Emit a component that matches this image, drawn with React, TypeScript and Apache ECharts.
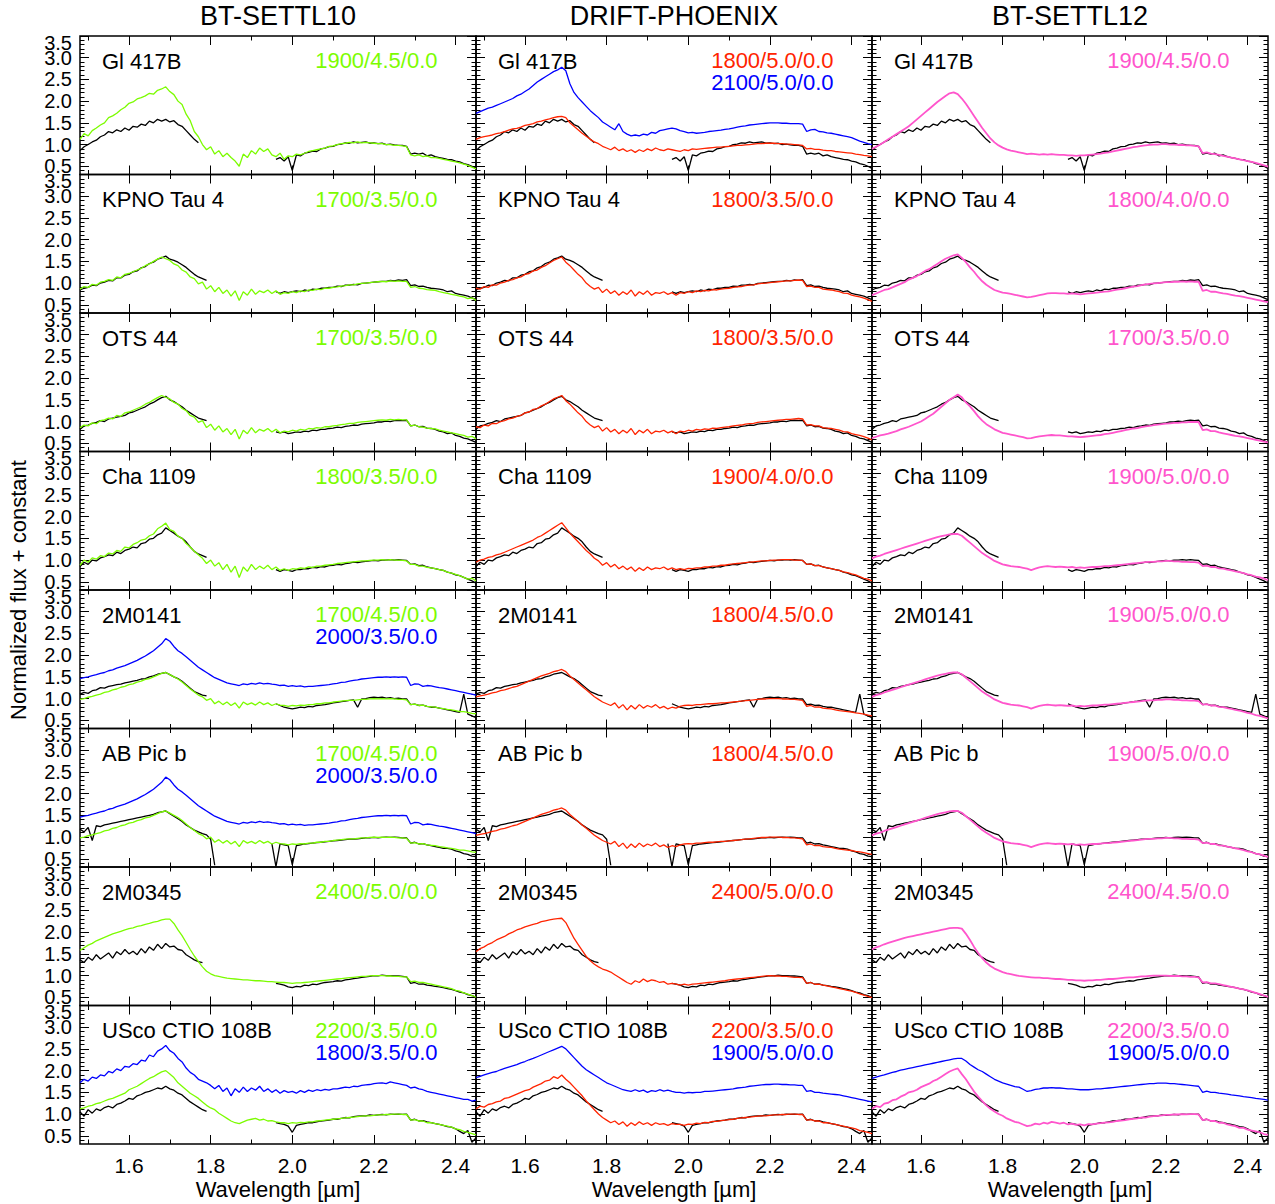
import React, { useEffect, useRef } from "react";
import * as echarts from "echarts";

const _ = null;

// wavelength grid in micron
const WAVELENGTH = [
  1.48, 1.49, 1.50, 1.51, 1.52, 1.53, 1.54, 1.55, 1.56, 1.57,
  1.58, 1.59, 1.60, 1.61, 1.62, 1.63, 1.64, 1.65, 1.66, 1.67,
  1.68, 1.69, 1.70, 1.71, 1.72, 1.73, 1.74, 1.75, 1.76, 1.77,
  1.78, 1.79, 1.80, 1.81, 1.82, 1.83, 1.84, 1.85, 1.86, 1.87,
  1.88, 1.89, 1.90, 1.91, 1.92, 1.93, 1.94, 1.95, 1.96, 1.97,
  1.98, 1.99, 2.00, 2.01, 2.02, 2.03, 2.04, 2.05, 2.06, 2.07,
  2.08, 2.09, 2.10, 2.11, 2.12, 2.13, 2.14, 2.15, 2.16, 2.17,
  2.18, 2.19, 2.20, 2.21, 2.22, 2.23, 2.24, 2.25, 2.26, 2.27,
  2.28, 2.29, 2.30, 2.31, 2.32, 2.33, 2.34, 2.35, 2.36, 2.37,
  2.38, 2.39, 2.40, 2.41, 2.42, 2.43, 2.44, 2.45,
];

// ---------- observed spectra (black) ----------
const OBS_GL417B = [
  0.86, 0.95, 1.00, 1.06, 1.10, 1.18, 1.22, 1.30, 1.27, 1.34,
  1.30, 1.38, 1.33, 1.42, 1.40, 1.47, 1.44, 1.54, 1.50, 1.58,
  1.54, 1.58, 1.52, 1.55, 1.46, 1.42, 1.32, 1.22, 1.12, 1.04,
  _, _, _, _, _, _, _, _, _, _,
  _, _, _, _, _, _, _, _, 0.66, 0.70,
  0.62, 0.72, 0.40, 0.76, 0.74, 0.80, 0.82, 0.85, 0.84, 0.90,
  0.92, 0.95, 0.96, 1.00, 1.01, 1.04, 1.03, 1.06, 1.04, 1.05,
  1.06, 1.03, 1.04, 1.02, 1.03, 1.00, 1.01, 0.99, 0.98, 0.98,
  0.96, 0.78, 0.80, 0.78, 0.80, 0.74, 0.76, 0.72, 0.70, 0.68,
  0.66, 0.65, 0.62, 0.60, 0.56, 0.54, 0.50, 0.45,
];
const OBS_KPNOTAU4 = [
  0.84, 0.88, 0.90, 0.95, 0.94, 1.00, 1.02, 1.06, 1.05, 1.12,
  1.12, 1.18, 1.20, 1.26, 1.28, 1.35, 1.38, 1.45, 1.48, 1.55,
  1.58, 1.62, 1.55, 1.52, 1.48, 1.42, 1.36, 1.28, 1.20, 1.14,
  1.10, 1.06, _, _, _, _, _, _, _, _,
  _, _, _, _, _, _, _, _, 0.80, 0.76,
  0.80, 0.78, 0.80, 0.82, 0.80, 0.84, 0.82, 0.86, 0.85, 0.88,
  0.88, 0.90, 0.90, 0.93, 0.92, 0.95, 0.95, 0.97, 0.96, 0.99,
  1.00, 1.01, 1.02, 1.03, 1.04, 1.04, 1.06, 1.05, 1.07, 1.06,
  1.08, 0.94, 0.96, 0.92, 0.93, 0.90, 0.88, 0.87, 0.86, 0.84,
  0.80, 0.82, 0.76, 0.74, 0.72, 0.70, 0.66, 0.62,
];
const OBS_OTS44 = [
  0.82, 0.90, 0.92, 0.96, 0.98, 1.02, 1.00, 1.06, 1.08, 1.10,
  1.12, 1.14, 1.20, 1.22, 1.26, 1.30, 1.34, 1.40, 1.44, 1.50,
  1.55, 1.58, 1.50, 1.46, 1.40, 1.34, 1.26, 1.20, 1.14, 1.08,
  1.05, 1.02, _, _, _, _, _, _, _, _,
  _, _, _, _, _, _, _, _, 0.76, 0.74,
  0.76, 0.72, 0.74, 0.76, 0.75, 0.78, 0.77, 0.80, 0.79, 0.82,
  0.82, 0.84, 0.85, 0.87, 0.86, 0.89, 0.90, 0.92, 0.91, 0.94,
  0.95, 0.96, 0.97, 0.99, 0.99, 1.01, 1.00, 1.02, 1.03, 1.02,
  1.03, 0.90, 0.92, 0.88, 0.89, 0.85, 0.84, 0.82, 0.78, 0.76,
  0.72, 0.74, 0.68, 0.66, 0.62, 0.60, 0.56, 0.52,
];
const OBS_CHA1109 = [
  0.85, 0.95, 0.90, 1.00, 0.98, 1.05, 1.08, 1.12, 1.10, 1.18,
  1.15, 1.22, 1.25, 1.30, 1.28, 1.38, 1.40, 1.48, 1.50, 1.58,
  1.62, 1.74, 1.68, 1.62, 1.55, 1.50, 1.42, 1.30, 1.20, 1.14,
  1.10, 1.06, _, _, _, _, _, _, _, _,
  _, _, _, _, _, _, _, _, 0.78, 0.74,
  0.78, 0.76, 0.74, 0.78, 0.78, 0.80, 0.80, 0.83, 0.82, 0.85,
  0.84, 0.87, 0.88, 0.90, 0.89, 0.92, 0.93, 0.95, 0.94, 0.96,
  0.97, 0.98, 0.99, 0.98, 1.00, 1.00, 1.01, 1.00, 1.01, 1.00,
  0.99, 0.90, 0.91, 0.87, 0.88, 0.84, 0.82, 0.80, 0.78, 0.76,
  0.72, 0.70, 0.66, 0.64, 0.60, 0.56, 0.52, 0.47,
];
const OBS_2M0141 = [
  1.10, 1.14, 1.12, 1.18, 1.20, 1.25, 1.24, 1.28, 1.30, 1.32,
  1.33, 1.36, 1.38, 1.40, 1.42, 1.45, 1.46, 1.50, 1.52, 1.56,
  1.58, 1.60, 1.55, 1.50, 1.46, 1.40, 1.32, 1.24, 1.16, 1.12,
  1.08, 1.06, _, _, _, _, _, _, _, _,
  _, _, _, _, _, _, _, _, 0.88, 0.84,
  0.80, 0.78, 0.76, 0.78, 0.80, 0.79, 0.82, 0.81, 0.84, 0.85,
  0.86, 0.88, 0.90, 0.91, 0.93, 0.94, 0.96, 0.97, 0.80, 0.99,
  1.00, 1.02, 1.03, 1.02, 1.03, 1.01, 1.02, 1.00, 1.01, 0.99,
  0.99, 0.86, 0.87, 0.84, 0.85, 0.82, 0.80, 0.80, 0.78, 0.76,
  0.74, 0.72, 0.70, 0.68, 1.10, 0.64, 0.60, 0.56,
];
const OBS_ABPICB = [
  1.18, 1.12, 1.22, 0.92, 1.26, 1.24, 1.28, 1.30, 1.32, 1.34,
  1.36, 1.38, 1.40, 1.42, 1.44, 1.46, 1.48, 1.50, 1.52, 1.56,
  1.58, 1.60, 1.54, 1.48, 1.42, 1.36, 1.28, 1.22, 1.16, 1.12,
  1.08, 1.05, 0.95, 0.35, _, _, _, _, _, _,
  _, _, _, _, _, _, _, 0.85, 0.32, 0.84,
  0.82, 0.80, 0.36, 0.80, 0.82, 0.84, 0.85, 0.86, 0.87, 0.88,
  0.89, 0.90, 0.91, 0.92, 0.93, 0.94, 0.95, 0.95, 0.96, 0.97,
  0.98, 0.98, 0.99, 0.98, 0.99, 1.00, 0.99, 1.00, 0.99, 0.98,
  0.98, 0.86, 0.88, 0.84, 0.85, 0.82, 0.80, 0.78, 0.76, 0.74,
  0.74, 0.72, 0.68, 0.66, 0.62, 0.60, 0.56, 0.55,
];
const OBS_2M0345 = [
  1.36, 1.30, 1.42, 1.35, 1.48, 1.38, 1.45, 1.52, 1.40, 1.55,
  1.48, 1.60, 1.50, 1.56, 1.48, 1.62, 1.52, 1.66, 1.58, 1.72,
  1.62, 1.74, 1.66, 1.68, 1.60, 1.58, 1.48, 1.42, 1.36, 1.32,
  1.30, _, _, _, _, _, _, _, _, _,
  _, _, _, _, _, _, _, _, 0.82, 0.80,
  0.78, 0.74, 0.72, 0.75, 0.74, 0.78, 0.77, 0.80, 0.79, 0.82,
  0.84, 0.85, 0.86, 0.88, 0.87, 0.90, 0.91, 0.93, 0.94, 0.96,
  0.97, 0.98, 1.00, 0.99, 1.01, 1.00, 1.00, 0.99, 0.99, 0.98,
  0.97, 0.82, 0.84, 0.80, 0.81, 0.78, 0.77, 0.75, 0.74, 0.72,
  0.70, 0.68, 0.65, 0.62, 0.60, 0.56, 0.54, 0.50,
];
const OBS_USCO108B = [
  1.05, 0.95, 1.10, 1.02, 1.12, 1.08, 1.15, 1.18, 1.14, 1.22,
  1.25, 1.30, 1.36, 1.34, 1.42, 1.45, 1.50, 1.52, 1.56, 1.60,
  1.58, 1.64, 1.58, 1.55, 1.48, 1.44, 1.36, 1.28, 1.22, 1.16,
  1.10, 1.06, _, _, _, _, _, _, _, _,
  _, _, _, _, _, _, _, _, 0.80, 0.78,
  0.76, 0.72, 0.58, 0.74, 0.76, 0.78, 0.80, 0.80, 0.82, 0.84,
  0.85, 0.86, 0.88, 0.88, 0.90, 0.92, 0.91, 0.94, 0.95, 0.96,
  0.96, 0.98, 0.97, 0.98, 0.99, 0.98, 1.00, 0.99, 1.00, 0.99,
  1.00, 0.86, 0.88, 0.84, 0.85, 0.82, 0.80, 0.78, 0.76, 0.74,
  0.71, 0.70, 0.66, 0.60, 0.55, 0.62, 0.35, 0.45,
];

// ---------- BT-SETTL10 models ----------
const S10_1900_45 = [
  1.12, 1.25, 1.20, 1.32, 1.38, 1.45, 1.50, 1.62, 1.66, 1.72,
  1.80, 1.86, 1.95, 1.98, 2.05, 2.08, 2.12, 2.18, 2.16, 2.25,
  2.28, 2.33, 2.22, 2.15, 2.00, 1.92, 1.70, 1.55, 1.30, 1.18,
  1.00, 0.88, 0.95, 0.78, 0.86, 0.72, 0.80, 0.70, 0.62, 0.50,
  0.78, 0.70, 0.86, 0.78, 0.92, 0.84, 0.90, 0.76, 0.72, 0.80,
  0.66, 0.74, 0.72, 0.78, 0.76, 0.80, 0.84, 0.86, 0.88, 0.90,
  0.92, 0.96, 0.97, 1.00, 1.02, 1.03, 1.05, 1.04, 1.06, 1.04,
  1.05, 1.04, 1.03, 1.02, 1.02, 1.00, 1.00, 0.98, 0.98, 0.97,
  0.95, 0.76, 0.74, 0.76, 0.72, 0.74, 0.70, 0.70, 0.68, 0.66,
  0.64, 0.62, 0.60, 0.58, 0.55, 0.52, 0.48, 0.44,
];
const S10_1700_35 = [
  0.86, 0.92, 0.90, 0.97, 0.95, 1.02, 1.04, 1.08, 1.06, 1.14,
  1.12, 1.20, 1.22, 1.26, 1.30, 1.34, 1.40, 1.44, 1.50, 1.55,
  1.60, 1.56, 1.52, 1.44, 1.40, 1.30, 1.25, 1.14, 1.10, 0.98,
  1.02, 0.86, 0.94, 0.80, 0.90, 0.76, 0.84, 0.70, 0.82, 0.60,
  0.80, 0.72, 0.86, 0.74, 0.82, 0.78, 0.84, 0.76, 0.82, 0.74,
  0.78, 0.76, 0.80, 0.78, 0.82, 0.80, 0.84, 0.83, 0.86, 0.85,
  0.88, 0.88, 0.90, 0.91, 0.93, 0.94, 0.96, 0.96, 0.98, 0.99,
  1.00, 1.01, 1.02, 1.03, 1.04, 1.03, 1.05, 1.04, 1.05, 1.04,
  1.04, 0.90, 0.92, 0.88, 0.87, 0.85, 0.84, 0.83, 0.80, 0.78,
  0.76, 0.74, 0.72, 0.70, 0.68, 0.64, 0.66, 0.60,
];
const S10_1800_35 = [
  0.88, 1.00, 0.95, 1.05, 1.02, 1.10, 1.08, 1.16, 1.14, 1.22,
  1.20, 1.30, 1.28, 1.36, 1.40, 1.46, 1.48, 1.56, 1.60, 1.72,
  1.78, 1.85, 1.70, 1.66, 1.55, 1.50, 1.38, 1.30, 1.20, 1.12,
  1.04, 0.92, 1.00, 0.86, 0.94, 0.78, 0.90, 0.72, 0.86, 0.60,
  0.84, 0.74, 0.90, 0.78, 0.86, 0.80, 0.88, 0.78, 0.84, 0.76,
  0.80, 0.76, 0.80, 0.79, 0.82, 0.81, 0.84, 0.83, 0.86, 0.86,
  0.88, 0.89, 0.90, 0.92, 0.93, 0.94, 0.95, 0.96, 0.97, 0.98,
  0.98, 0.99, 1.00, 1.00, 1.01, 1.00, 1.01, 1.00, 1.00, 0.99,
  0.98, 0.90, 0.90, 0.86, 0.86, 0.83, 0.82, 0.80, 0.78, 0.76,
  0.72, 0.70, 0.67, 0.64, 0.60, 0.56, 0.58, 0.52,
];
const S10_1700_45 = [
  0.98, 1.00, 1.03, 1.05, 1.08, 1.10, 1.14, 1.16, 1.20, 1.22,
  1.26, 1.28, 1.32, 1.34, 1.38, 1.40, 1.44, 1.46, 1.50, 1.54,
  1.58, 1.60, 1.55, 1.50, 1.45, 1.38, 1.30, 1.22, 1.15, 1.08,
  1.04, 0.96, 1.00, 0.88, 0.94, 0.86, 0.92, 0.84, 0.90, 0.78,
  0.92, 0.86, 0.90, 0.85, 0.92, 0.86, 0.90, 0.84, 0.88, 0.85,
  0.84, 0.82, 0.84, 0.83, 0.85, 0.84, 0.86, 0.86, 0.88, 0.88,
  0.90, 0.90, 0.92, 0.93, 0.94, 0.95, 0.96, 0.96, 0.97, 0.98,
  0.98, 0.99, 1.00, 0.99, 1.00, 0.99, 1.00, 0.99, 0.98, 0.98,
  0.97, 0.86, 0.87, 0.84, 0.85, 0.82, 0.81, 0.80, 0.78, 0.77,
  0.75, 0.74, 0.72, 0.70, 0.70, 0.68, 0.66, 0.65,
];
const S10_2000_35 = [
  1.46, 1.48, 1.50, 1.53, 1.55, 1.58, 1.60, 1.64, 1.66, 1.70,
  1.73, 1.76, 1.80, 1.84, 1.88, 1.93, 1.98, 2.04, 2.10, 2.18,
  2.26, 2.38, 2.32, 2.20, 2.10, 2.04, 1.96, 1.88, 1.80, 1.72,
  1.66, 1.60, 1.54, 1.48, 1.44, 1.40, 1.36, 1.34, 1.32, 1.30,
  1.34, 1.32, 1.35, 1.33, 1.36, 1.34, 1.35, 1.33, 1.32, 1.30,
  1.31, 1.28, 1.30, 1.28, 1.29, 1.27, 1.28, 1.28, 1.29, 1.30,
  1.31, 1.32, 1.34, 1.35, 1.37, 1.38, 1.40, 1.42, 1.43, 1.45,
  1.46, 1.47, 1.48, 1.49, 1.49, 1.50, 1.49, 1.50, 1.49, 1.50,
  1.49, 1.30, 1.34, 1.33, 1.28, 1.30, 1.29, 1.27, 1.25, 1.24,
  1.22, 1.20, 1.18, 1.16, 1.14, 1.12, 1.10, 1.08,
];
const S10_2400_50 = [
  1.58, 1.64, 1.70, 1.74, 1.80, 1.84, 1.88, 1.92, 1.96, 1.99,
  2.02, 2.05, 2.08, 2.10, 2.13, 2.15, 2.18, 2.20, 2.23, 2.25,
  2.28, 2.30, 2.30, 2.20, 2.05, 1.92, 1.76, 1.60, 1.45, 1.32,
  1.20, 1.10, 1.04, 1.00, 0.98, 0.96, 0.94, 0.93, 0.92, 0.91,
  0.90, 0.90, 0.89, 0.88, 0.88, 0.87, 0.86, 0.86, 0.85, 0.84,
  0.84, 0.83, 0.82, 0.83, 0.83, 0.84, 0.85, 0.86, 0.87, 0.88,
  0.89, 0.90, 0.91, 0.92, 0.93, 0.94, 0.95, 0.96, 0.97, 0.98,
  0.98, 0.99, 1.00, 1.00, 1.00, 0.99, 0.99, 0.98, 0.98, 0.97,
  0.97, 0.86, 0.87, 0.84, 0.84, 0.82, 0.80, 0.78, 0.76, 0.74,
  0.72, 0.70, 0.66, 0.64, 0.60, 0.57, 0.54, 0.50,
];
const S10_2200_35 = [
  1.12, 1.14, 1.18, 1.20, 1.24, 1.26, 1.30, 1.34, 1.36, 1.40,
  1.44, 1.48, 1.56, 1.60, 1.64, 1.70, 1.76, 1.82, 1.86, 1.92,
  1.97, 2.00, 1.92, 1.84, 1.72, 1.64, 1.56, 1.48, 1.42, 1.36,
  1.28, 1.20, 1.14, 1.10, 1.02, 0.96, 0.90, 0.84, 0.80, 0.78,
  0.82, 0.86, 0.88, 0.90, 0.86, 0.88, 0.84, 0.85, 0.82, 0.80,
  0.80, 0.78, 0.80, 0.79, 0.81, 0.80, 0.82, 0.82, 0.84, 0.85,
  0.86, 0.87, 0.88, 0.89, 0.90, 0.91, 0.92, 0.93, 0.94, 0.95,
  0.96, 0.96, 0.97, 0.98, 0.98, 0.99, 0.99, 1.00, 1.00, 0.99,
  0.99, 0.86, 0.87, 0.84, 0.84, 0.80, 0.80, 0.78, 0.76, 0.74,
  0.72, 0.70, 0.66, 0.64, 0.60, 0.58, 0.55, 0.52,
];
const S10_1800_35_OFFSET = [
  1.72, 1.80, 1.76, 1.85, 1.82, 1.90, 1.88, 1.98, 1.95, 2.04,
  2.00, 2.10, 2.08, 2.16, 2.14, 2.24, 2.22, 2.36, 2.32, 2.45,
  2.50, 2.58, 2.46, 2.40, 2.28, 2.20, 2.06, 1.96, 1.90, 1.80,
  1.76, 1.72, 1.66, 1.58, 1.66, 1.52, 1.60, 1.42, 1.58, 1.50,
  1.62, 1.52, 1.60, 1.55, 1.64, 1.52, 1.58, 1.50, 1.56, 1.48,
  1.54, 1.50, 1.52, 1.48, 1.54, 1.50, 1.55, 1.52, 1.56, 1.54,
  1.57, 1.55, 1.58, 1.58, 1.60, 1.62, 1.61, 1.64, 1.63, 1.66,
  1.67, 1.68, 1.70, 1.71, 1.72, 1.70, 1.74, 1.72, 1.70, 1.68,
  1.66, 1.60, 1.62, 1.58, 1.56, 1.52, 1.50, 1.48, 1.46, 1.44,
  1.42, 1.40, 1.38, 1.36, 1.34, 1.34, 1.30, 1.32,
];

// ---------- DRIFT-PHOENIX models ----------
const DP_1800_50 = [
  1.12, 1.16, 1.18, 1.20, 1.22, 1.25, 1.27, 1.30, 1.33, 1.36,
  1.37, 1.40, 1.44, 1.46, 1.48, 1.52, 1.54, 1.57, 1.59, 1.62,
  1.64, 1.65, 1.62, 1.50, 1.42, 1.34, 1.26, 1.19, 1.12, 1.06,
  1.02, 0.96, 0.92, 0.88, 0.94, 0.86, 0.90, 0.84, 0.88, 0.82,
  0.88, 0.84, 0.90, 0.86, 0.92, 0.88, 0.86, 0.90, 0.88, 0.86,
  0.84, 0.88, 0.86, 0.90, 0.89, 0.90, 0.91, 0.92, 0.93, 0.94,
  0.94, 0.95, 0.96, 0.97, 0.98, 0.98, 0.99, 1.00, 1.01, 1.02,
  1.02, 1.03, 1.03, 1.03, 1.02, 1.02, 1.01, 1.01, 1.00, 0.99,
  0.98, 0.90, 0.91, 0.89, 0.89, 0.87, 0.86, 0.86, 0.84, 0.83,
  0.82, 0.81, 0.80, 0.78, 0.77, 0.75, 0.74, 0.72,
];
const DP_2100_50 = [
  1.72, 1.76, 1.80, 1.84, 1.86, 1.90, 1.94, 1.98, 2.02, 2.06,
  2.12, 2.16, 2.22, 2.28, 2.36, 2.44, 2.50, 2.56, 2.62, 2.68,
  2.72, 2.78, 2.70, 2.40, 2.20, 2.08, 1.98, 1.88, 1.78, 1.70,
  1.62, 1.52, 1.46, 1.40, 1.34, 1.48, 1.30, 1.24, 1.20, 1.22,
  1.20, 1.24, 1.22, 1.28, 1.26, 1.32, 1.34, 1.36, 1.38, 1.36,
  1.32, 1.30, 1.27, 1.28, 1.26, 1.27, 1.28, 1.30, 1.31, 1.32,
  1.33, 1.35, 1.36, 1.38, 1.40, 1.42, 1.43, 1.45, 1.46, 1.47,
  1.48, 1.49, 1.50, 1.50, 1.50, 1.49, 1.49, 1.48, 1.48, 1.48,
  1.47, 1.30, 1.34, 1.35, 1.30, 1.29, 1.27, 1.26, 1.24, 1.22,
  1.20, 1.18, 1.16, 1.12, 1.08, 1.05, 1.02, 1.00,
];
const DP_1800_35 = [
  0.88, 0.86, 0.92, 0.90, 0.96, 0.95, 1.00, 1.02, 1.06, 1.08,
  1.12, 1.14, 1.20, 1.22, 1.28, 1.30, 1.36, 1.40, 1.46, 1.52,
  1.56, 1.60, 1.48, 1.40, 1.30, 1.20, 1.12, 1.00, 0.92, 0.86,
  0.90, 0.78, 0.86, 0.76, 0.82, 0.72, 0.80, 0.74, 0.84, 0.70,
  0.80, 0.74, 0.82, 0.72, 0.78, 0.76, 0.80, 0.74, 0.78, 0.72,
  0.78, 0.76, 0.80, 0.78, 0.82, 0.80, 0.83, 0.82, 0.85, 0.84,
  0.86, 0.87, 0.88, 0.90, 0.91, 0.92, 0.94, 0.95, 0.96, 0.98,
  0.99, 1.00, 1.01, 1.02, 1.03, 1.04, 1.05, 1.05, 1.06, 1.07,
  1.06, 0.92, 0.93, 0.90, 0.90, 0.86, 0.85, 0.84, 0.82, 0.80,
  0.77, 0.76, 0.72, 0.70, 0.68, 0.65, 0.62, 0.58,
];
const DP_1900_40 = [
  0.95, 1.00, 1.02, 1.06, 1.08, 1.12, 1.14, 1.18, 1.22, 1.26,
  1.30, 1.34, 1.38, 1.42, 1.46, 1.52, 1.56, 1.62, 1.68, 1.74,
  1.80, 1.86, 1.74, 1.62, 1.52, 1.42, 1.32, 1.22, 1.14, 1.04,
  0.98, 0.88, 0.94, 0.84, 0.90, 0.80, 0.86, 0.78, 0.84, 0.74,
  0.82, 0.76, 0.84, 0.78, 0.82, 0.80, 0.84, 0.78, 0.82, 0.78,
  0.80, 0.78, 0.81, 0.80, 0.82, 0.82, 0.84, 0.84, 0.86, 0.86,
  0.88, 0.88, 0.90, 0.91, 0.92, 0.93, 0.94, 0.95, 0.96, 0.97,
  0.98, 0.98, 0.99, 1.00, 1.00, 1.01, 1.01, 1.01, 1.00, 1.00,
  0.99, 0.90, 0.91, 0.87, 0.87, 0.84, 0.82, 0.80, 0.78, 0.76,
  0.73, 0.71, 0.68, 0.66, 0.62, 0.58, 0.56, 0.52,
];
const DP_1800_45 = [
  1.04, 1.06, 1.08, 1.10, 1.13, 1.15, 1.18, 1.20, 1.23, 1.26,
  1.28, 1.32, 1.36, 1.40, 1.44, 1.48, 1.52, 1.55, 1.58, 1.62,
  1.64, 1.67, 1.62, 1.52, 1.44, 1.36, 1.28, 1.20, 1.12, 1.04,
  0.98, 0.92, 0.88, 0.84, 0.90, 0.78, 0.86, 0.74, 0.84, 0.76,
  0.86, 0.78, 0.84, 0.80, 0.86, 0.78, 0.82, 0.76, 0.80, 0.78,
  0.82, 0.84, 0.85, 0.84, 0.86, 0.86, 0.87, 0.88, 0.88, 0.89,
  0.90, 0.90, 0.91, 0.92, 0.93, 0.94, 0.95, 0.96, 0.97, 0.98,
  0.99, 0.99, 1.00, 1.00, 1.00, 0.99, 0.99, 0.98, 0.98, 0.97,
  0.96, 0.82, 0.84, 0.80, 0.81, 0.78, 0.77, 0.76, 0.74, 0.72,
  0.71, 0.70, 0.69, 0.67, 0.66, 0.64, 0.62, 0.60,
];
const DP_2400_50 = [
  1.55, 1.62, 1.66, 1.72, 1.76, 1.82, 1.86, 1.90, 1.96, 2.00,
  2.05, 2.08, 2.12, 2.15, 2.18, 2.20, 2.24, 2.26, 2.28, 2.30,
  2.31, 2.32, 2.22, 2.04, 1.86, 1.72, 1.58, 1.44, 1.34, 1.26,
  1.20, 1.15, 1.12, 1.08, 1.02, 0.96, 0.90, 0.84, 0.80, 0.88,
  0.84, 0.92, 0.86, 0.90, 0.88, 0.84, 0.86, 0.80, 0.82, 0.80,
  0.78, 0.80, 0.78, 0.80, 0.81, 0.82, 0.83, 0.84, 0.85, 0.86,
  0.87, 0.88, 0.90, 0.91, 0.92, 0.93, 0.94, 0.95, 0.96, 0.97,
  0.98, 0.99, 1.00, 0.99, 0.99, 0.98, 0.98, 0.97, 0.96, 0.96,
  0.95, 0.82, 0.84, 0.80, 0.80, 0.78, 0.76, 0.74, 0.72, 0.70,
  0.68, 0.66, 0.64, 0.61, 0.58, 0.55, 0.52, 0.49,
];
const DP_2200_35 = [
  1.12, 1.18, 1.16, 1.22, 1.24, 1.28, 1.30, 1.36, 1.38, 1.42,
  1.46, 1.50, 1.54, 1.56, 1.62, 1.66, 1.70, 1.76, 1.78, 1.86,
  1.82, 1.90, 1.80, 1.72, 1.62, 1.52, 1.42, 1.30, 1.20, 1.10,
  1.00, 0.92, 0.86, 0.80, 0.84, 0.76, 0.82, 0.72, 0.80, 0.74,
  0.82, 0.76, 0.80, 0.74, 0.80, 0.76, 0.78, 0.74, 0.78, 0.76,
  0.76, 0.74, 0.77, 0.76, 0.79, 0.78, 0.81, 0.80, 0.83, 0.83,
  0.85, 0.86, 0.87, 0.88, 0.90, 0.91, 0.92, 0.93, 0.94, 0.95,
  0.96, 0.96, 0.97, 0.98, 0.98, 0.99, 0.99, 1.00, 1.00, 0.99,
  0.99, 0.86, 0.87, 0.84, 0.84, 0.80, 0.80, 0.78, 0.76, 0.74,
  0.72, 0.70, 0.68, 0.66, 0.62, 0.60, 0.58, 0.55,
];
const DP_1900_50 = [
  1.84, 1.87, 1.90, 1.93, 1.96, 1.98, 2.02, 2.05, 2.08, 2.11,
  2.14, 2.18, 2.21, 2.25, 2.28, 2.32, 2.36, 2.40, 2.44, 2.48,
  2.52, 2.56, 2.50, 2.40, 2.30, 2.20, 2.10, 2.02, 1.96, 1.90,
  1.84, 1.78, 1.72, 1.68, 1.64, 1.60, 1.56, 1.54, 1.52, 1.56,
  1.52, 1.55, 1.50, 1.54, 1.52, 1.56, 1.53, 1.55, 1.52, 1.50,
  1.50, 1.48, 1.50, 1.49, 1.50, 1.50, 1.52, 1.52, 1.53, 1.54,
  1.55, 1.56, 1.57, 1.58, 1.60, 1.61, 1.62, 1.64, 1.65, 1.66,
  1.67, 1.68, 1.68, 1.69, 1.69, 1.68, 1.68, 1.67, 1.67, 1.66,
  1.66, 1.52, 1.54, 1.50, 1.50, 1.48, 1.47, 1.46, 1.45, 1.44,
  1.42, 1.40, 1.38, 1.36, 1.34, 1.32, 1.30, 1.28,
];

// ---------- BT-SETTL12 models ----------
const S12_1900_45 = [
  0.90, 0.95, 1.00, 1.06, 1.12, 1.18, 1.24, 1.30, 1.36, 1.42,
  1.50, 1.58, 1.66, 1.74, 1.82, 1.90, 1.98, 2.05, 2.12, 2.18,
  2.20, 2.16, 2.06, 1.94, 1.80, 1.66, 1.52, 1.38, 1.26, 1.14,
  1.05, 0.98, 0.93, 0.89, 0.86, 0.84, 0.82, 0.80, 0.78, 0.79,
  0.78, 0.77, 0.78, 0.77, 0.78, 0.77, 0.76, 0.76, 0.75, 0.75,
  0.74, 0.75, 0.75, 0.76, 0.77, 0.78, 0.79, 0.81, 0.82, 0.84,
  0.86, 0.88, 0.90, 0.92, 0.94, 0.95, 0.97, 0.98, 0.99, 1.00,
  1.00, 1.01, 1.01, 1.00, 1.00, 0.99, 0.99, 0.98, 0.98, 0.97,
  0.96, 0.80, 0.82, 0.79, 0.78, 0.76, 0.74, 0.72, 0.70, 0.68,
  0.66, 0.64, 0.62, 0.60, 0.58, 0.55, 0.52, 0.49,
];
const S12_1800_40 = [
  0.72, 0.76, 0.80, 0.84, 0.86, 0.90, 0.94, 0.98, 1.02, 1.08,
  1.12, 1.16, 1.22, 1.28, 1.32, 1.38, 1.44, 1.50, 1.56, 1.60,
  1.64, 1.66, 1.58, 1.48, 1.36, 1.26, 1.14, 1.04, 0.96, 0.90,
  0.84, 0.81, 0.78, 0.77, 0.75, 0.73, 0.71, 0.69, 0.67, 0.68,
  0.70, 0.72, 0.74, 0.76, 0.77, 0.77, 0.76, 0.76, 0.75, 0.76,
  0.75, 0.74, 0.75, 0.76, 0.77, 0.78, 0.79, 0.80, 0.81, 0.83,
  0.85, 0.86, 0.88, 0.90, 0.92, 0.93, 0.95, 0.97, 0.98, 0.99,
  1.00, 1.01, 1.02, 1.02, 1.03, 1.03, 1.04, 1.03, 1.04, 1.03,
  1.03, 0.82, 0.84, 0.80, 0.80, 0.78, 0.76, 0.75, 0.73, 0.71,
  0.70, 0.68, 0.66, 0.64, 0.62, 0.60, 0.58, 0.56,
];
const S12_1700_35 = [
  0.62, 0.65, 0.68, 0.70, 0.72, 0.75, 0.78, 0.82, 0.85, 0.88,
  0.92, 0.96, 1.00, 1.06, 1.12, 1.18, 1.26, 1.34, 1.42, 1.50,
  1.56, 1.62, 1.56, 1.44, 1.35, 1.24, 1.12, 1.02, 0.94, 0.88,
  0.82, 0.78, 0.74, 0.72, 0.70, 0.68, 0.66, 0.64, 0.61, 0.62,
  0.64, 0.66, 0.67, 0.68, 0.69, 0.68, 0.68, 0.67, 0.66, 0.66,
  0.65, 0.64, 0.65, 0.66, 0.67, 0.68, 0.69, 0.71, 0.72, 0.74,
  0.76, 0.78, 0.80, 0.82, 0.84, 0.85, 0.87, 0.89, 0.90, 0.92,
  0.93, 0.94, 0.95, 0.96, 0.97, 0.97, 0.98, 0.98, 0.99, 0.99,
  0.99, 0.80, 0.82, 0.78, 0.78, 0.75, 0.73, 0.71, 0.69, 0.67,
  0.66, 0.64, 0.62, 0.60, 0.58, 0.56, 0.54, 0.52,
];
const S12_1900_50 = [
  1.04, 1.08, 1.10, 1.14, 1.17, 1.20, 1.23, 1.26, 1.29, 1.32,
  1.35, 1.38, 1.41, 1.44, 1.47, 1.50, 1.53, 1.55, 1.57, 1.59,
  1.60, 1.60, 1.56, 1.48, 1.40, 1.32, 1.24, 1.16, 1.10, 1.04,
  0.98, 0.94, 0.90, 0.88, 0.86, 0.85, 0.84, 0.82, 0.80, 0.77,
  0.80, 0.83, 0.85, 0.86, 0.85, 0.84, 0.85, 0.84, 0.83, 0.84,
  0.82, 0.83, 0.82, 0.83, 0.84, 0.84, 0.85, 0.86, 0.86, 0.87,
  0.88, 0.89, 0.90, 0.91, 0.92, 0.93, 0.94, 0.95, 0.96, 0.96,
  0.97, 0.97, 0.98, 0.98, 0.97, 0.97, 0.96, 0.96, 0.95, 0.95,
  0.94, 0.86, 0.87, 0.84, 0.84, 0.81, 0.80, 0.78, 0.76, 0.74,
  0.72, 0.70, 0.67, 0.65, 0.62, 0.60, 0.57, 0.54,
];
const S12_2400_45 = [
  1.60, 1.65, 1.68, 1.72, 1.75, 1.78, 1.81, 1.84, 1.87, 1.89,
  1.91, 1.93, 1.95, 1.97, 1.99, 2.01, 2.03, 2.05, 2.07, 2.09,
  2.10, 2.10, 2.08, 1.96, 1.82, 1.66, 1.52, 1.40, 1.30, 1.22,
  1.16, 1.12, 1.08, 1.05, 1.03, 1.01, 0.99, 0.98, 0.97, 0.96,
  0.95, 0.95, 0.94, 0.94, 0.93, 0.92, 0.92, 0.91, 0.90, 0.90,
  0.89, 0.89, 0.88, 0.89, 0.89, 0.90, 0.90, 0.91, 0.92, 0.92,
  0.93, 0.94, 0.95, 0.96, 0.96, 0.97, 0.98, 0.98, 0.99, 1.00,
  1.00, 1.00, 1.00, 0.99, 0.99, 0.99, 0.98, 0.98, 0.97, 0.97,
  0.96, 0.84, 0.85, 0.82, 0.82, 0.80, 0.78, 0.76, 0.74, 0.72,
  0.70, 0.68, 0.66, 0.63, 0.60, 0.57, 0.54, 0.51,
];
const S12_2200_35 = [
  1.12, 1.18, 1.16, 1.24, 1.26, 1.32, 1.34, 1.40, 1.44, 1.50,
  1.52, 1.56, 1.62, 1.66, 1.70, 1.76, 1.80, 1.86, 1.92, 1.98,
  2.02, 2.05, 1.92, 1.80, 1.66, 1.52, 1.40, 1.30, 1.20, 1.12,
  1.06, 1.00, 0.96, 0.90, 0.86, 0.82, 0.80, 0.76, 0.72, 0.74,
  0.78, 0.76, 0.80, 0.78, 0.82, 0.80, 0.78, 0.80, 0.76, 0.78,
  0.75, 0.76, 0.74, 0.77, 0.76, 0.78, 0.79, 0.80, 0.81, 0.82,
  0.84, 0.85, 0.86, 0.88, 0.89, 0.90, 0.92, 0.92, 0.94, 0.95,
  0.96, 0.97, 0.98, 0.98, 0.99, 0.99, 1.00, 0.99, 1.00, 1.00,
  0.99, 0.86, 0.88, 0.84, 0.84, 0.80, 0.80, 0.76, 0.74, 0.72,
  0.68, 0.68, 0.64, 0.62, 0.60, 0.58, 0.54, 0.52,
];
const S12_1900_50_OFFSET = [
  1.82, 1.85, 1.88, 1.90, 1.93, 1.96, 1.98, 2.01, 2.03, 2.05,
  2.07, 2.09, 2.11, 2.13, 2.15, 2.17, 2.19, 2.21, 2.23, 2.25,
  2.27, 2.28, 2.28, 2.22, 2.14, 2.08, 2.02, 1.98, 1.92, 1.86,
  1.80, 1.76, 1.72, 1.69, 1.66, 1.63, 1.62, 1.57, 1.52, 1.54,
  1.57, 1.58, 1.60, 1.60, 1.61, 1.60, 1.60, 1.59, 1.58, 1.58,
  1.57, 1.56, 1.56, 1.56, 1.57, 1.58, 1.58, 1.59, 1.60, 1.61,
  1.62, 1.63, 1.64, 1.65, 1.66, 1.67, 1.68, 1.69, 1.70, 1.70,
  1.71, 1.71, 1.71, 1.70, 1.70, 1.69, 1.68, 1.67, 1.66, 1.65,
  1.64, 1.50, 1.53, 1.50, 1.50, 1.48, 1.47, 1.46, 1.44, 1.43,
  1.42, 1.40, 1.39, 1.38, 1.36, 1.35, 1.34, 1.32,
];

// ---------- labels, ticks ----------
const COLUMN_TITLES = ["BT-SETTL10", "DRIFT-PHOENIX", "BT-SETTL12"];
const OBJECT_NAMES = ["Gl 417B", "KPNO Tau 4", "OTS 44", "Cha 1109", "2M0141", "AB Pic b", "2M0345", "USco CTIO 108B"];
const OBSERVED = [OBS_GL417B, OBS_KPNOTAU4, OBS_OTS44, OBS_CHA1109, OBS_2M0141, OBS_ABPICB, OBS_2M0345, OBS_USCO108B];
const X_MAJOR = [1.6, 1.8, 2.0, 2.2, 2.4];
const X_MINOR = [1.5, 1.7, 1.9, 2.1, 2.3];
const Y_LABELS = [0.5, 1.0, 1.5, 2.0, 2.5, 3.0];
const Y_TOP_LABEL = "3.5";
const Y_MAJOR = [0.5, 1.0, 1.5, 2.0, 2.5, 3.0, 3.5];
const Y_MINOR = [0.4, 0.6, 0.7, 0.8, 0.9, 1.1, 1.2, 1.3, 1.4, 1.6, 1.7, 1.8, 1.9, 2.1, 2.2, 2.3, 2.4, 2.6, 2.7, 2.8, 2.9, 3.1, 3.2, 3.3, 3.4];
const X_NAME = "Wavelength [µm]";
const Y_NAME = "Normalized flux + constant";

const GREEN = "#7cfc00";
const RED = "#ff2400";
const PINK = "#ff55cc";
const BLUE = "#0000ff";

type Model = { label: string; data: (number | null)[]; color: string };
const COLUMN_MODELS: Model[][][] = [
  [
    [{ label: "1900/4.5/0.0", data: S10_1900_45, color: GREEN }],
    [{ label: "1700/3.5/0.0", data: S10_1700_35, color: GREEN }],
    [{ label: "1700/3.5/0.0", data: S10_1700_35, color: GREEN }],
    [{ label: "1800/3.5/0.0", data: S10_1800_35, color: GREEN }],
    [{ label: "1700/4.5/0.0", data: S10_1700_45, color: GREEN }, { label: "2000/3.5/0.0", data: S10_2000_35, color: BLUE }],
    [{ label: "1700/4.5/0.0", data: S10_1700_45, color: GREEN }, { label: "2000/3.5/0.0", data: S10_2000_35, color: BLUE }],
    [{ label: "2400/5.0/0.0", data: S10_2400_50, color: GREEN }],
    [{ label: "2200/3.5/0.0", data: S10_2200_35, color: GREEN }, { label: "1800/3.5/0.0", data: S10_1800_35_OFFSET, color: BLUE }],
  ],
  [
    [{ label: "1800/5.0/0.0", data: DP_1800_50, color: RED }, { label: "2100/5.0/0.0", data: DP_2100_50, color: BLUE }],
    [{ label: "1800/3.5/0.0", data: DP_1800_35, color: RED }],
    [{ label: "1800/3.5/0.0", data: DP_1800_35, color: RED }],
    [{ label: "1900/4.0/0.0", data: DP_1900_40, color: RED }],
    [{ label: "1800/4.5/0.0", data: DP_1800_45, color: RED }],
    [{ label: "1800/4.5/0.0", data: DP_1800_45, color: RED }],
    [{ label: "2400/5.0/0.0", data: DP_2400_50, color: RED }],
    [{ label: "2200/3.5/0.0", data: DP_2200_35, color: RED }, { label: "1900/5.0/0.0", data: DP_1900_50, color: BLUE }],
  ],
  [
    [{ label: "1900/4.5/0.0", data: S12_1900_45, color: PINK }],
    [{ label: "1800/4.0/0.0", data: S12_1800_40, color: PINK }],
    [{ label: "1700/3.5/0.0", data: S12_1700_35, color: PINK }],
    [{ label: "1900/5.0/0.0", data: S12_1900_50, color: PINK }],
    [{ label: "1900/5.0/0.0", data: S12_1900_50, color: PINK }],
    [{ label: "1900/5.0/0.0", data: S12_1900_50, color: PINK }],
    [{ label: "2400/4.5/0.0", data: S12_2400_45, color: PINK }],
    [{ label: "2200/3.5/0.0", data: S12_2200_35, color: PINK }, { label: "1900/5.0/0.0", data: S12_1900_50_OFFSET, color: BLUE }],
  ],
];

// ---------- layout ----------
const W = 1275;
const H = 1204;
const GRID_LEFTS = [80, 476, 872];
const GRID_W = 396;
const GRID_TOP = 36;
const GRID_H = 138.5;
const X_MIN = 1.48;
const X_MAX = 2.45;
const Y_MIN = 0.31;
const Y_MAX = 3.5;
const FONT = "'Liberation Sans', Arial, Helvetica, sans-serif";

function textEl(text: string, x: number, y: number, size: number, color: string, align: string, extra: any = {}) {
  return {
    type: "text",
    x,
    y,
    silent: true,
    ...extra,
    style: {
      text,
      fill: color,
      fontSize: size,
      fontFamily: FONT,
      align,
      verticalAlign: "middle",
      textAlign: align,
      textVerticalAlign: "middle",
    },
  };
}

function buildOption() {
  const grid: any[] = [];
  const xAxis: any[] = [];
  const yAxis: any[] = [];
  const series: any[] = [];
  const graphic: any[] = [];
  const tickLine = { color: "#000", width: 1 };

  for (let c = 0; c < 3; c++) {
    for (let r = 0; r < 8; r++) {
      const gi = grid.length;
      const left = GRID_LEFTS[c];
      const top = GRID_TOP + r * GRID_H;
      grid.push({ left, top, width: GRID_W, height: GRID_H, show: true, borderColor: "#000", borderWidth: 1.5, backgroundColor: "transparent" });

      const mkX = (position: string, values: number[], len: number, labels: boolean) => ({
        type: "value",
        gridIndex: gi,
        position,
        min: X_MIN,
        max: X_MAX,
        axisLine: { show: false },
        splitLine: { show: false },
        axisTick: { show: true, inside: true, length: len, customValues: values, lineStyle: tickLine },
        axisLabel: {
          show: labels,
          customValues: values,
          margin: 11,
          fontSize: 21,
          color: "#000",
          fontFamily: FONT,
          formatter: (v: number) => v.toFixed(1),
        },
      });
      const mkY = (position: string, tickValues: number[], labelValues: number[], len: number, labels: boolean) => ({
        type: "value",
        gridIndex: gi,
        position,
        min: Y_MIN,
        max: Y_MAX,
        axisLine: { show: false },
        splitLine: { show: false },
        axisTick: { show: true, inside: true, length: len, customValues: tickValues, lineStyle: tickLine },
        axisLabel: {
          show: labels,
          customValues: labelValues,
          margin: 8,
          fontSize: 20,
          color: "#000",
          fontFamily: FONT,
          formatter: (v: number) => v.toFixed(1),
        },
      });

      const xi = xAxis.length;
      xAxis.push(
        mkX("bottom", X_MAJOR, 9, r === 7),
        mkX("bottom", X_MINOR, 4.5, false),
        mkX("top", X_MAJOR, 9, false),
        mkX("top", X_MINOR, 4.5, false)
      );
      const yi = yAxis.length;
      yAxis.push(
        mkY("left", Y_MAJOR, Y_LABELS, 9, c === 0),
        mkY("left", Y_MINOR, Y_MINOR, 4.5, false),
        mkY("right", Y_MAJOR, Y_MAJOR, 9, false),
        mkY("right", Y_MINOR, Y_MINOR, 4.5, false)
      );

      const line = (data: (number | null)[], color: string, width: number, z: number) => ({
        type: "line",
        xAxisIndex: xi,
        yAxisIndex: yi,
        data: WAVELENGTH.map((w, i) => [w, data[i] === null ? "-" : data[i]]),
        showSymbol: false,
        symbol: "none",
        connectNulls: false,
        clip: true,
        silent: true,
        z,
        lineStyle: { color, width },
        itemStyle: { color },
      });

      series.push(line(OBSERVED[r], "#000", 1.3, 2));
      const models = COLUMN_MODELS[c][r];
      models.forEach((m, k) => {
        series.push(line(m.data, m.color, m.color === PINK ? 1.8 : 1.3, 3 + k));
        graphic.push(textEl(m.label, left + GRID_W - 38.5, top + 24.5 + k * 22, 22, m.color, "right"));
      });
      graphic.push(textEl(OBJECT_NAMES[r], left + 22, top + 25, 22, "#000", "left"));

      if (c === 0) {
        graphic.push(textEl(Y_TOP_LABEL, left - 8, top + 6.8, 20, "#000", "right"));
      }
    }
    const cx = GRID_LEFTS[c] + GRID_W / 2;
    graphic.push(textEl(COLUMN_TITLES[c], cx, 16, 27, "#000", "center"));
    graphic.push(textEl(X_NAME, cx, 1189, 22, "#000", "center"));
  }
  graphic.push(textEl(Y_NAME, 18, GRID_TOP + 4 * GRID_H, 22, "#000", "center", { rotation: Math.PI / 2 }));

  return {
    animation: false,
    backgroundColor: "#ffffff",
    grid,
    xAxis,
    yAxis,
    series,
    graphic: { elements: graphic },
  };
}

export default function App() {
  const ref = useRef<HTMLDivElement>(null);
  useEffect(() => {
    document.body.style.margin = "0";
    const chart = echarts.init(ref.current as HTMLDivElement, undefined, { renderer: "svg", width: W, height: H });
    chart.setOption(buildOption() as any);
    return () => chart.dispose();
  }, []);
  return <div ref={ref} style={{ position: "absolute", left: 0, top: 0, width: W, height: H }} />;
}
